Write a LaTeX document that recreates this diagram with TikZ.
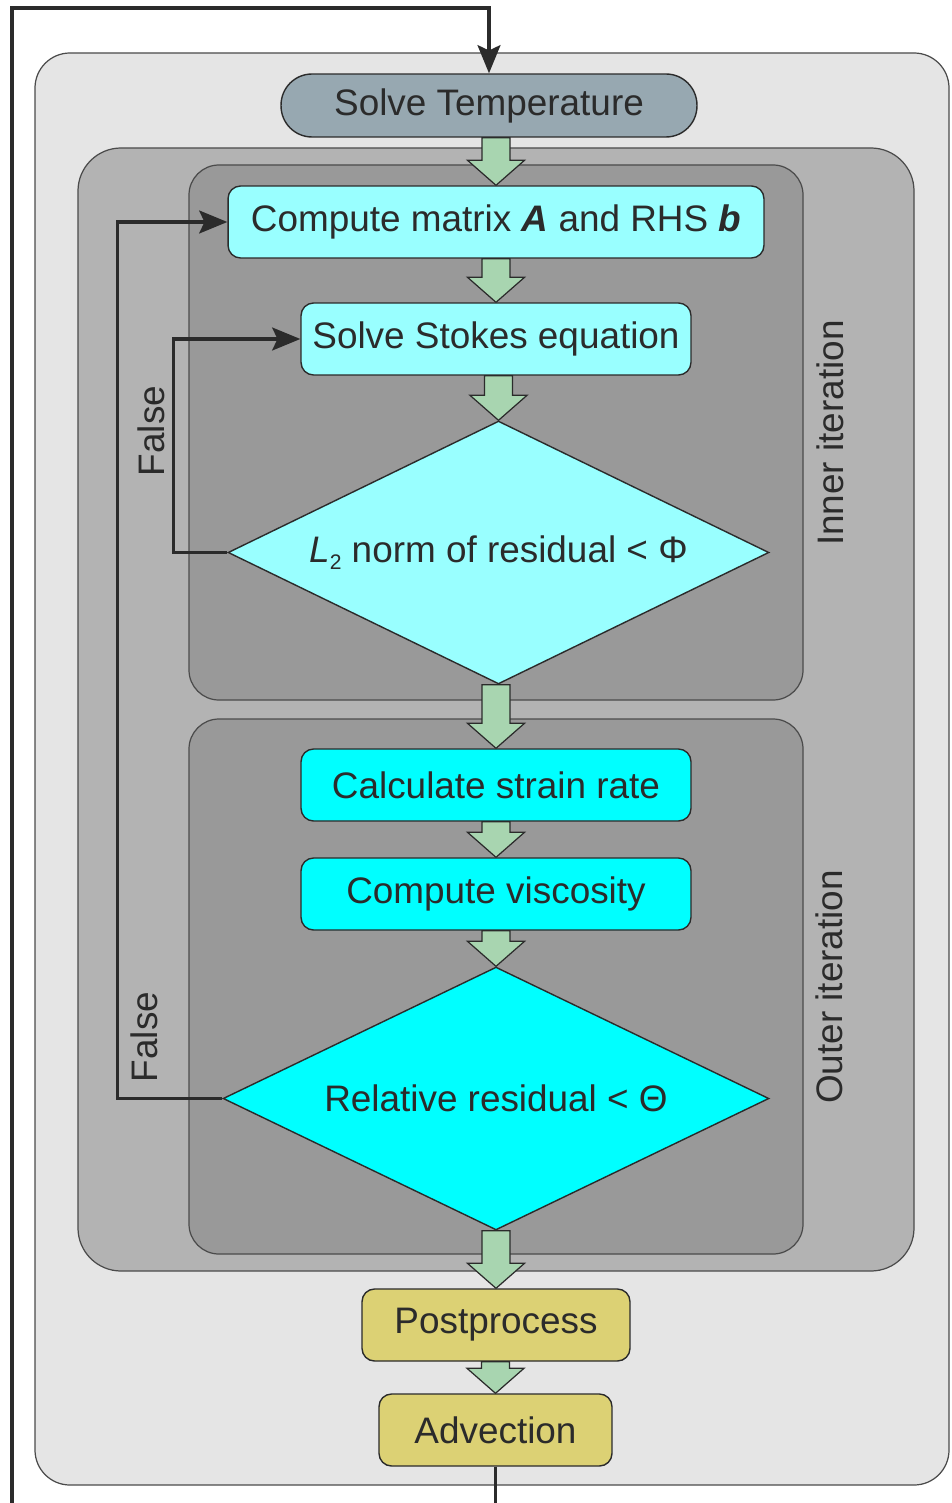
\documentclass[tikz,border=0pt]{standalone}
\usepackage{fontspec}
\setmainfont{Liberation Sans}
\usetikzlibrary{shapes.geometric,arrows.meta,calc}

\definecolor{bgouter}{HTML}{E5E5E5}
\definecolor{bgmid}{HTML}{B3B3B3}
\definecolor{bginner}{HTML}{999999}
\definecolor{tempcol}{HTML}{97A8B1}
\definecolor{lightcyan}{HTML}{99FFFF}
\definecolor{fullcyan}{HTML}{00FFFF}
\definecolor{postcol}{HTML}{DCD174}
\definecolor{arrowgreen}{HTML}{A8D5B0}
\definecolor{linecol}{HTML}{2B2B2B}

\tikzset{
  stepbox/.style={draw=linecol, line width=0.8pt, rounded corners=0.25cm, inner sep=0pt,
    minimum height=1.44cm, text=linecol, font=\fontsize{21}{25}\selectfont},
  decision/.style={diamond, aspect=2.06, draw=linecol, line width=0.8pt, inner sep=0pt,
    text=linecol, font=\fontsize{21}{25}\selectfont},
  region/.style={draw=linecol!85, line width=0.7pt},
  sidelabel/.style={rotate=90, inner sep=0pt, text=linecol, font=\fontsize{21}{25}\selectfont},
  flowarrow/.style={fill=arrowgreen, draw=linecol, line width=0.7pt, line join=miter},
  loopline/.style={draw=linecol, line width=2pt, -{Stealth[length=16pt,width=13pt,inset=3pt]}},
}

% 绿色块箭头: 从 #1 的下方指向 #2 的上方
\newcommand{\flow}[2]{%
  \draw[flowarrow] let \p1=(#1.south), \p2=(#2.north) in
    (\x2-0.28cm,\y1) -- (\x2-0.28cm,\y2+0.5cm) -- (\x2-0.57cm,\y2+0.5cm) -- (\x2,\y2)
    -- (\x2+0.57cm,\y2+0.5cm) -- (\x2+0.28cm,\y2+0.5cm) -- (\x2+0.28cm,\y1) -- cycle;}

\begin{document}
\begin{tikzpicture}[x=0.02cm, y=-0.02cm]
  \useasboundingbox (0,0) rectangle (951,1503);
  \clip (0,0) rectangle (951,1503);

  % 背景区域
  \draw[region, fill=bgouter, rounded corners=0.7cm] (35,53) rectangle (949,1485);
  \draw[region, fill=bgmid, rounded corners=0.86cm] (78,148) rectangle (914,1271);
  \draw[region, fill=bginner, rounded corners=0.6cm] (189,165) rectangle (803,700);
  \draw[region, fill=bginner, rounded corners=0.6cm] (189,719) rectangle (803,1254);

  % 侧边标签
  \node[sidelabel] (innerlbl) at (830,433) {Inner iteration};
  \node[sidelabel] (outerlbl) at (829,987) {Outer iteration};
  \node[sidelabel] (false1) at (151,431) {False};
  \node[sidelabel] (false2) at (144,1037) {False};

  % 流程步骤
  \node[stepbox, fill=tempcol, rounded corners=0.62cm, minimum width=8.32cm, minimum height=1.26cm]
    (temp) at (489,105.5) {Solve Temperature};
  \node[stepbox, fill=lightcyan, minimum width=10.72cm] (cmat) at (496,222)
    {Compute matrix \textbf{\textit{A}} and RHS \textbf{\textit{b}}};
  \node[stepbox, fill=lightcyan, minimum width=7.8cm] (stokes) at (496,339) {Solve Stokes equation};
  \node[decision, fill=lightcyan, minimum width=10.82cm, minimum height=5.26cm] (dec1) at (498.5,552.5)
    {\textit{L}\raisebox{-0.35ex}{\fontsize{12}{14}\selectfont 2} norm of residual < Φ};
  \node[stepbox, fill=fullcyan, minimum width=7.8cm] (strain) at (496,785) {Calculate strain rate};
  \node[stepbox, fill=fullcyan, minimum width=7.8cm] (visc) at (496,894) {Compute viscosity};
  \node[decision, fill=fullcyan, minimum width=10.92cm, minimum height=5.26cm] (dec2) at (496,1098.5)
    {Relative residual < Θ};
  \node[stepbox, fill=postcol, minimum width=5.36cm] (post) at (496,1325) {Postprocess};
  \node[stepbox, fill=postcol, minimum width=4.66cm] (adv) at (495.5,1430) {Advection};

  % 块箭头
  \flow{temp}{cmat}
  \flow{cmat}{stokes}
  \flow{stokes}{dec1}
  \flow{dec1}{strain}
  \flow{strain}{visc}
  \flow{visc}{dec2}
  \flow{dec2}{post}
  \flow{post}{adv}

  % 反馈回路
  \draw[loopline] (dec1.west) -- ++(-54,0) |- (stokes.west);
  \draw[loopline] (dec2.west) -- ++(-105,0) |- (cmat.west);
  \draw[loopline] (adv.south) |- (12,1540) |- (489,8) -- (temp.north);
\end{tikzpicture}
\end{document}
